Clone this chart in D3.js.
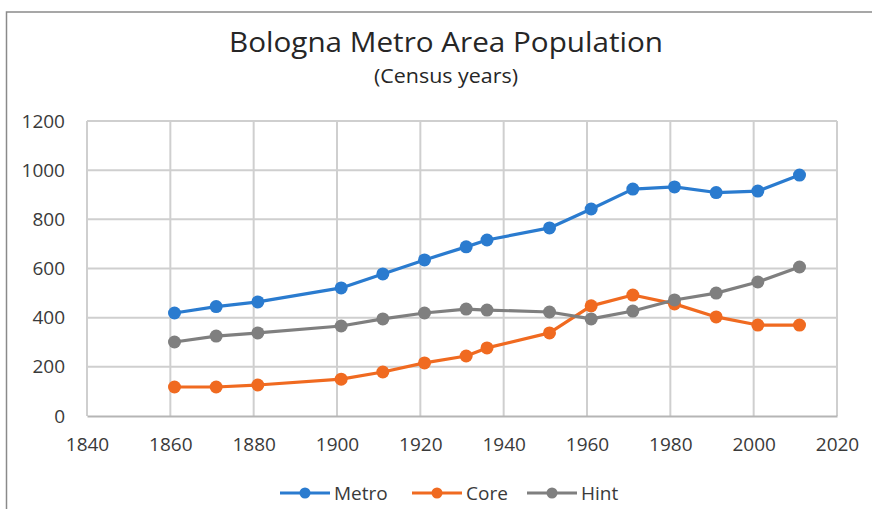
<!DOCTYPE html>
<html>
<head>
<meta charset="utf-8">
<script src="https://cdn.jsdelivr.net/npm/d3@7"></script>
<style>
  body { margin: 0; background: #fff; }
  svg { display: block; font-family: "Open Sans", "Noto Sans", sans-serif; }
</style>
</head>
<body>
<svg id="root" width="872" height="509"></svg>
<script>
//Chart data
const years = [1861, 1871, 1881, 1901, 1911, 1921, 1931, 1936, 1951, 1961, 1971, 1981, 1991, 2001, 2011];
const metro = [419, 445, 464, 521, 578, 635, 688, 716, 765, 842, 923, 932, 909, 915, 980];
const core = [118, 118, 126, 150, 179, 216, 244, 277, 338, 448, 492, 456, 403, 370, 370];
const hint = [301, 325, 338, 366, 395, 419, 435, 431, 423, 395, 427, 472, 500, 545, 606];
const seriesNames = ["Metro", "Core", "Hint"];
const seriesColors = ["#2a7bcf", "#f06a20", "#7f7f7f"];
const xTicks = [1840, 1860, 1880, 1900, 1920, 1940, 1960, 1980, 2000, 2020];
const yTicks = [0, 200, 400, 600, 800, 1000, 1200];

const svg = d3.select("#root");

//Outer frame
svg.append("rect")
    .attr("x", 6.5).attr("y", 12)
    .attr("width", 880).attr("height", 520)
    .attr("fill", "none")
    .attr("stroke", "#8a8a8a")
    .attr("stroke-width", 1.5);

//Titles
svg.append("text")
    .attr("x", 446).attr("y", 52)
    .attr("text-anchor", "middle")
    .attr("font-size", 28)
    .attr("textLength", 434)
    .attr("lengthAdjust", "spacingAndGlyphs")
    .attr("fill", "#262626")
    .text("Bologna Metro Area Population");
svg.append("text")
    .attr("x", 446).attr("y", 83)
    .attr("text-anchor", "middle")
    .attr("font-size", 20)
    .attr("textLength", 144)
    .attr("lengthAdjust", "spacingAndGlyphs")
    .attr("fill", "#262626")
    .text("(Census years)");

//Scales
const x = d3.scaleLinear().domain([1840, 2020]).range([87, 837]);
const y = d3.scaleLinear().domain([0, 1200]).range([416, 121]);

//Grid
const grid = svg.append("g").attr("stroke", "#cfcfcf").attr("stroke-width", 2);
grid.selectAll(".hg").data(yTicks.slice(1)).enter().append("line")
    .attr("x1", x(1840)).attr("x2", x(2020))
    .attr("y1", d => y(d)).attr("y2", d => y(d));
grid.selectAll(".vg").data(xTicks).enter().append("line")
    .attr("x1", d => x(d)).attr("x2", d => x(d))
    .attr("y1", y(0)).attr("y2", y(1200));

//Axes
const yAxis = svg.append("g")
    .attr("transform", `translate(${x(1840)},0)`)
    .call(d3.axisLeft(y).tickValues(yTicks).tickFormat(d3.format("d")).tickSize(0).tickPadding(22));
yAxis.select(".domain").remove();
yAxis.selectAll("text").attr("font-size", 19).attr("fill", "#3a3a3a").attr("font-family", "Open Sans");

const xAxis = svg.append("g")
    .attr("transform", `translate(0,${y(0)})`)
    .call(d3.axisBottom(x).tickValues(xTicks).tickFormat(d3.format("d")).tickSize(0).tickPadding(22));
xAxis.select(".domain").attr("stroke", "#b5b5b5").attr("stroke-width", 2);
xAxis.selectAll("text").attr("font-size", 19).attr("fill", "#3a3a3a").attr("font-family", "Open Sans");

//Series
const allSeries = [metro, core, hint];
const line = d3.line().x((d, i) => x(years[i])).y(d => y(d));
allSeries.forEach((values, s) => {
    svg.append("path")
        .datum(values)
        .attr("d", line)
        .attr("fill", "none")
        .attr("stroke", seriesColors[s])
        .attr("stroke-width", 3.2)
        .attr("stroke-linejoin", "round");
    svg.append("g").selectAll("circle")
        .data(values).enter().append("circle")
        .attr("cx", (d, i) => x(years[i]))
        .attr("cy", d => y(d))
        .attr("r", 6.5)
        .attr("fill", seriesColors[s]);
});

//Legend
const legendX = [280, 412, 527];
const legend = svg.append("g").selectAll("g")
    .data(seriesNames).enter().append("g")
    .attr("transform", (d, i) => `translate(${legendX[i]},493)`);
legend.append("line")
    .attr("x1", 0).attr("x2", 50)
    .attr("stroke", (d, i) => seriesColors[i])
    .attr("stroke-width", 3.2);
legend.append("circle")
    .attr("cx", 25).attr("r", 5.5)
    .attr("fill", (d, i) => seriesColors[i]);
legend.append("text")
    .attr("x", 54).attr("y", 7)
    .attr("font-size", 19)
    .attr("fill", "#3a3a3a")
    .text(d => d);
</script>
</body>
</html>
